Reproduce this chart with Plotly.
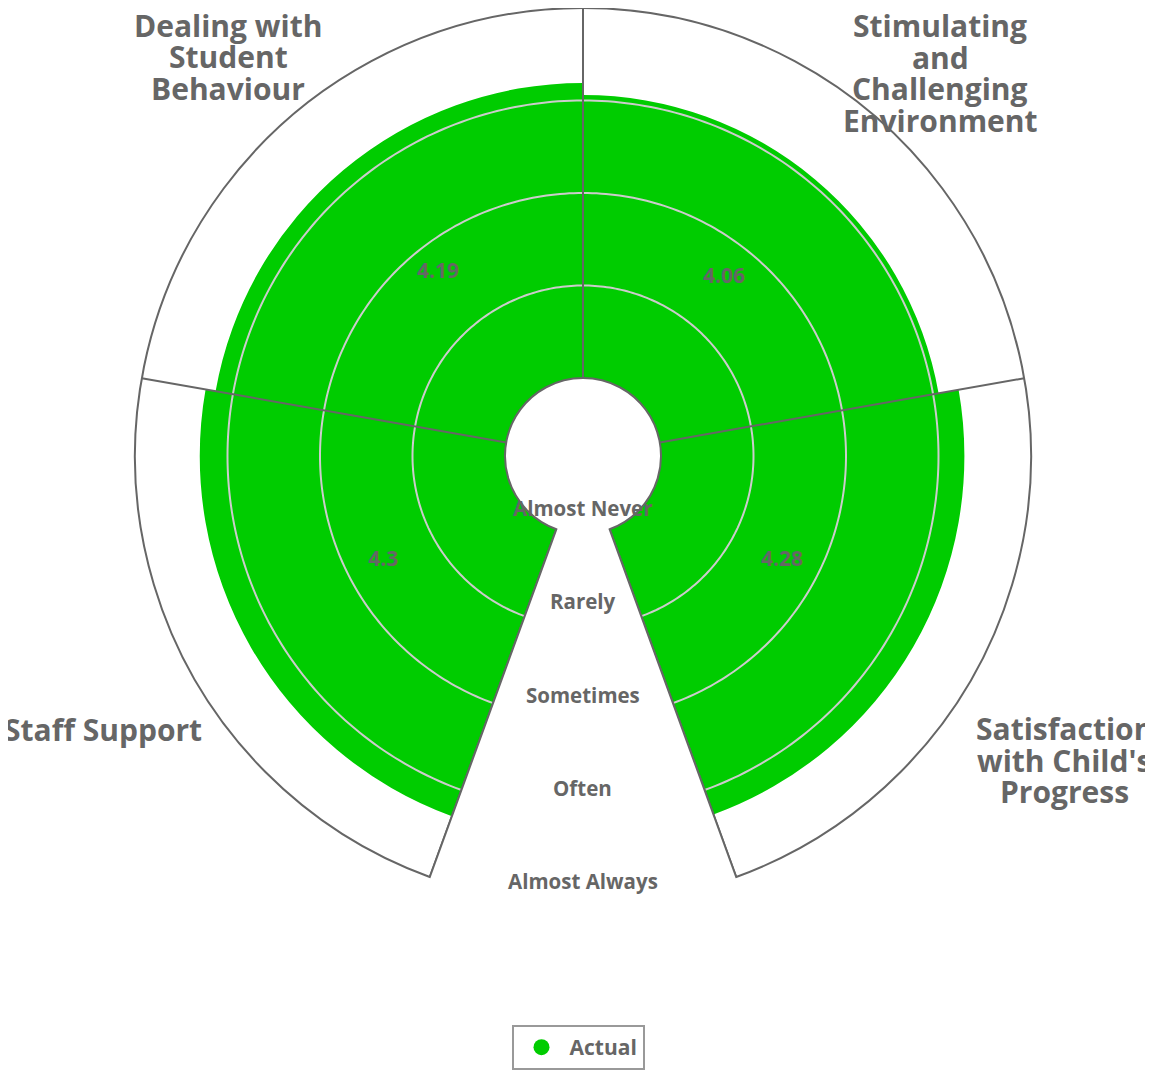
import math
import textwrap
import numpy as np
import plotly.graph_objects as go

categories = ["Staff Support", "Dealing with Student Behaviour",
              "Stimulating and Challenging Environment",
              "Satisfaction with Child's Progress"]
actual = [4.3, 4.19, 4.06, 4.28]
scale_values = [1, 2, 3, 4, 5]
scale_labels = ["Almost Never", "Rarely", "Sometimes", "Often", "Almost Always"]

W, H = 1153, 1071
PAGE = 8                   # default body margin of the html page
FW, FH = W - PAGE, H - PAGE
CX, CY = 583, 456          # pane centre, screen px
R_OUT, R_IN = 448, 78      # pane radius and hole radius, px
START, END = -160, 160     # pane angles, clockwise from north
GREEN = "#00cc00"
GREY = "#666666"
FONT = "Open Sans"

# centre of each category title block, screen px
title_xy = [(103, 729), (228, 57), (940, 73), (1064, 760)]
TITLE_GAP = 31.5

slot = (END - START) / len(categories)
theta = [START + slot * (i + 0.5) for i in range(len(categories))]
edges = [START + slot * i for i in range(len(categories) + 1)]
lo, hi = scale_values[0], scale_values[-1]


def paper(x, y):
    return (x - PAGE) / FW, 1 - (y - PAGE) / FH


fig = go.Figure()
fig.add_trace(go.Barpolar(
    r=[v - lo for v in actual], base=lo, theta=theta, width=slot,
    marker=dict(color=GREEN, line=dict(width=0)),
    customdata=actual, hovertemplate="%{customdata}<extra>Actual</extra>",
    showlegend=False, legendgroup="actual"))

# grid drawn on top of the bars, like the original
ring = np.arange(START, END + 1, 1)
for v in scale_values[1:-1]:
    fig.add_trace(go.Scatterpolar(
        r=[v] * len(ring), theta=ring, mode="lines",
        line=dict(color="#cccccc", width=2), hoverinfo="skip", showlegend=False))
for e in edges:
    fig.add_trace(go.Scatterpolar(
        r=[lo, hi], theta=[e, e], mode="lines",
        line=dict(color=GREY, width=2), hoverinfo="skip", showlegend=False))

fig.add_trace(go.Scatterpolar(
    r=[(lo + v) / 2 for v in actual], theta=theta, mode="text",
    text=[f"{v:g}" for v in actual], textposition="top center",
    textfont=dict(family=FONT, size=21, color=GREY, weight="bold"),
    hoverinfo="skip", showlegend=False))

# legend entry with a round symbol
fig.add_trace(go.Scatterpolar(
    r=[None], theta=[None], mode="markers", name="Actual",
    marker=dict(color=GREEN, size=20), legendgroup="actual"))

annotations = []
for name, (x, y) in zip(categories, title_xy):
    lines = textwrap.wrap(name, 13)
    for k, line in enumerate(lines):
        ax, ay = paper(x, y + (k - (len(lines) - 1) / 2) * TITLE_GAP)
        annotations.append(dict(
            x=ax, y=ay, xref="paper", yref="paper", text=line, showarrow=False,
            xanchor="center", yanchor="middle",
            font=dict(family=FONT, size=30, color=GREY, weight="bold")))
for v, label in zip(scale_values, scale_labels):
    ax, ay = paper(CX, 453 + R_IN + (v - lo) * 93.25 - 23)
    annotations.append(dict(
        x=ax, y=ay, xref="paper", yref="paper", text=label, showarrow=False,
        xanchor="center", yanchor="middle",
        font=dict(family=FONT, size=20.5, color=GREY, weight="bold")))

bottom = CY - R_OUT * math.cos(math.radians(END))
x0, y0 = paper(CX - R_OUT, bottom)
x1, y1 = paper(CX + R_OUT, CY - R_OUT)
lx, ly = paper(578, 1025)
fig.update_layout(
    width=FW, height=FH,
    paper_bgcolor="white",
    margin=dict(l=0, r=0, t=0, b=0, autoexpand=False),
    font=dict(family=FONT, color=GREY),
    polar=dict(
        domain=dict(x=[x0, x1], y=[max(y0, 0), min(y1, 1)]),
        sector=[90 - END, 90 - START],
        hole=R_IN / R_OUT,
        bgcolor="white",
        radialaxis=dict(range=[lo, hi], showgrid=False, showticklabels=False,
                        ticks="", showline=False),
        angularaxis=dict(type="linear", thetaunit="degrees", direction="clockwise",
                         rotation=90, showgrid=False, showticklabels=False, ticks="",
                         showline=True, linecolor=GREY, linewidth=2,
                         layer="above traces"),
    ),
    legend=dict(x=lx, xanchor="center", y=ly, yanchor="top", itemwidth=46,
                bordercolor="#999999", borderwidth=2, bgcolor="white",
                font=dict(family=FONT, size=21, color=GREY, weight="bold")),
    annotations=annotations,
)

fig.write_html("out.html")
